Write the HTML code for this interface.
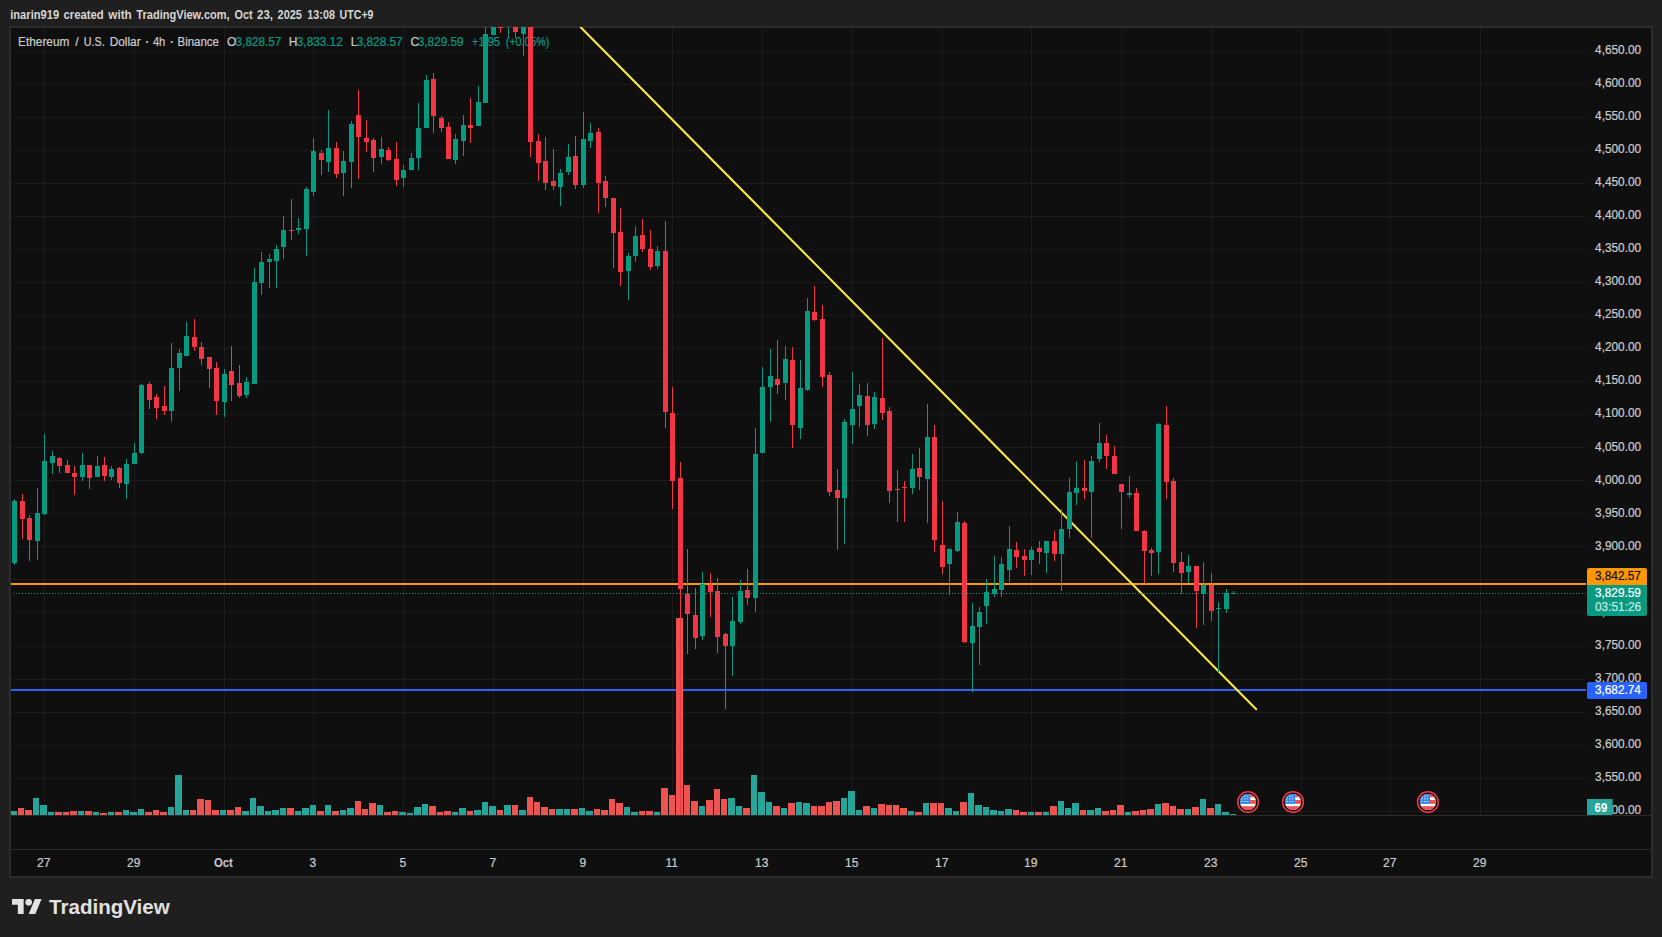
<!DOCTYPE html>
<html lang="en"><head><meta charset="utf-8"><title>ETHUSD 4h chart</title>
<style>html,body{margin:0;padding:0;background:#1f1f1f;overflow:hidden}body{width:1662px;height:937px}svg text{white-space:pre}</style>
</head><body>
<svg width="1662" height="937" viewBox="0 0 1662 937" style="display:block" font-family="'Liberation Sans', sans-serif">
<rect width="1662" height="937" fill="#1f1f1f"/>
<rect x="9" y="26" width="1644" height="852" fill="#2c2c2c"/>
<rect x="11" y="28" width="1640" height="848" fill="#0f0f0f"/>
<g shape-rendering="crispEdges" fill="#ffffff" fill-opacity="0.05">
<rect x="11" y="51" width="1575" height="1"/>
<rect x="11" y="84" width="1575" height="1"/>
<rect x="11" y="117" width="1575" height="1"/>
<rect x="11" y="150" width="1575" height="1"/>
<rect x="11" y="183" width="1575" height="1"/>
<rect x="11" y="216" width="1575" height="1"/>
<rect x="11" y="249" width="1575" height="1"/>
<rect x="11" y="282" width="1575" height="1"/>
<rect x="11" y="315" width="1575" height="1"/>
<rect x="11" y="348" width="1575" height="1"/>
<rect x="11" y="381" width="1575" height="1"/>
<rect x="11" y="414" width="1575" height="1"/>
<rect x="11" y="447" width="1575" height="1"/>
<rect x="11" y="480" width="1575" height="1"/>
<rect x="11" y="513" width="1575" height="1"/>
<rect x="11" y="546" width="1575" height="1"/>
<rect x="11" y="579" width="1575" height="1"/>
<rect x="11" y="612" width="1575" height="1"/>
<rect x="11" y="646" width="1575" height="1"/>
<rect x="11" y="679" width="1575" height="1"/>
<rect x="11" y="712" width="1575" height="1"/>
<rect x="11" y="745" width="1575" height="1"/>
<rect x="11" y="778" width="1575" height="1"/>
<rect x="11" y="811" width="1575" height="1"/>
<rect x="44" y="28" width="1" height="787"/>
<rect x="134" y="28" width="1" height="787"/>
<rect x="224" y="28" width="1" height="787"/>
<rect x="313" y="28" width="1" height="787"/>
<rect x="403" y="28" width="1" height="787"/>
<rect x="493" y="28" width="1" height="787"/>
<rect x="583" y="28" width="1" height="787"/>
<rect x="672" y="28" width="1" height="787"/>
<rect x="762" y="28" width="1" height="787"/>
<rect x="852" y="28" width="1" height="787"/>
<rect x="942" y="28" width="1" height="787"/>
<rect x="1031" y="28" width="1" height="787"/>
<rect x="1121" y="28" width="1" height="787"/>
<rect x="1211" y="28" width="1" height="787"/>
<rect x="1301" y="28" width="1" height="787"/>
<rect x="1390" y="28" width="1" height="787"/>
<rect x="1480" y="28" width="1" height="787"/>
</g>
<g shape-rendering="crispEdges" fill="#2b2b2b">
<rect x="11" y="815" width="1640" height="1"/>
<rect x="11" y="849" width="1640" height="1"/>
</g>
<text x="18.1" y="46" font-size="12" fill="#cbcbcb" textLength="51.2" lengthAdjust="spacingAndGlyphs" stroke="#cbcbcb" stroke-width="0.22">Ethereum</text>
<text x="75.2" y="46" font-size="12" fill="#cbcbcb" stroke="#cbcbcb" stroke-width="0.22">/</text>
<text x="83.8" y="46" font-size="12" fill="#cbcbcb" textLength="20.9" lengthAdjust="spacingAndGlyphs" stroke="#cbcbcb" stroke-width="0.22">U.S.</text>
<text x="109.7" y="46" font-size="12" fill="#cbcbcb" textLength="30.9" lengthAdjust="spacingAndGlyphs" stroke="#cbcbcb" stroke-width="0.22">Dollar</text>
<text x="145.2" y="46" font-size="12" fill="#cbcbcb" font-weight="bold">·</text>
<text x="152.9" y="46" font-size="12" fill="#cbcbcb" textLength="12.4" lengthAdjust="spacingAndGlyphs" stroke="#cbcbcb" stroke-width="0.22">4h</text>
<text x="170.0" y="46" font-size="12" fill="#cbcbcb" font-weight="bold">·</text>
<text x="177.6" y="46" font-size="12" fill="#cbcbcb" textLength="41.3" lengthAdjust="spacingAndGlyphs" stroke="#cbcbcb" stroke-width="0.22">Binance</text>
<text x="227" y="46" font-size="12" fill="#cbcbcb" stroke="#cbcbcb" stroke-width="0.22">O</text>
<text x="235.6" y="46" font-size="12" fill="#089981" textLength="45.7" lengthAdjust="spacingAndGlyphs" stroke="#089981" stroke-width="0.22">3,828.57</text>
<text x="288.8" y="46" font-size="12" fill="#cbcbcb" stroke="#cbcbcb" stroke-width="0.22">H</text>
<text x="296.8" y="46" font-size="12" fill="#089981" textLength="45.9" lengthAdjust="spacingAndGlyphs" stroke="#089981" stroke-width="0.22">3,833.12</text>
<text x="350.8" y="46" font-size="12" fill="#cbcbcb" stroke="#cbcbcb" stroke-width="0.22">L</text>
<text x="356.7" y="46" font-size="12" fill="#089981" textLength="45.9" lengthAdjust="spacingAndGlyphs" stroke="#089981" stroke-width="0.22">3,828.57</text>
<text x="410.6" y="46" font-size="12" fill="#cbcbcb" stroke="#cbcbcb" stroke-width="0.22">C</text>
<text x="417.8" y="46" font-size="12" fill="#089981" textLength="45.8" lengthAdjust="spacingAndGlyphs" stroke="#089981" stroke-width="0.22">3,829.59</text>
<text x="472" y="46" font-size="12" fill="#089981" textLength="28" lengthAdjust="spacingAndGlyphs" stroke="#089981" stroke-width="0.22">+1.95</text>
<text x="505.7" y="46" font-size="12" fill="#089981" textLength="43.7" lengthAdjust="spacingAndGlyphs" stroke="#089981" stroke-width="0.22">(+0.05%)</text>
<clipPath id="pane"><rect x="11" y="27" width="1575" height="788"/></clipPath>
<g clip-path="url(#pane)">
<g shape-rendering="crispEdges">
<rect x="11" y="583" width="1575" height="2" fill="#ff9800"/>
<rect x="11" y="689" width="1575" height="2" fill="#2962ff"/>
</g>
<line x1="580.7" y1="27.2" x2="1256.2" y2="709.2" stroke="#ffeb3b" stroke-width="2" stroke-linecap="round"/>
<g shape-rendering="crispEdges">
<rect x="11" y="811" width="6" height="4" fill="#26a69a"/>
<rect x="18" y="808" width="6" height="7" fill="#ef5350"/>
<rect x="25" y="810" width="7" height="5" fill="#ef5350"/>
<rect x="33" y="798" width="6" height="17" fill="#26a69a"/>
<rect x="40" y="805" width="7" height="10" fill="#26a69a"/>
<rect x="48" y="812" width="6" height="3" fill="#26a69a"/>
<rect x="55" y="812" width="7" height="3" fill="#ef5350"/>
<rect x="63" y="812" width="6" height="3" fill="#ef5350"/>
<rect x="70" y="811" width="7" height="4" fill="#ef5350"/>
<rect x="78" y="811" width="6" height="4" fill="#26a69a"/>
<rect x="85" y="811" width="7" height="4" fill="#ef5350"/>
<rect x="93" y="812" width="6" height="3" fill="#26a69a"/>
<rect x="100" y="813" width="7" height="2" fill="#ef5350"/>
<rect x="108" y="812" width="6" height="3" fill="#26a69a"/>
<rect x="115" y="812" width="7" height="3" fill="#ef5350"/>
<rect x="123" y="810" width="6" height="5" fill="#26a69a"/>
<rect x="130" y="812" width="7" height="3" fill="#26a69a"/>
<rect x="138" y="809" width="6" height="6" fill="#26a69a"/>
<rect x="145" y="812" width="7" height="3" fill="#ef5350"/>
<rect x="153" y="810" width="6" height="5" fill="#ef5350"/>
<rect x="160" y="812" width="7" height="3" fill="#ef5350"/>
<rect x="168" y="807" width="6" height="8" fill="#26a69a"/>
<rect x="175" y="775" width="7" height="40" fill="#26a69a"/>
<rect x="183" y="810" width="6" height="5" fill="#26a69a"/>
<rect x="190" y="810" width="6" height="5" fill="#ef5350"/>
<rect x="197" y="799" width="7" height="16" fill="#ef5350"/>
<rect x="205" y="800" width="6" height="15" fill="#ef5350"/>
<rect x="212" y="810" width="7" height="5" fill="#ef5350"/>
<rect x="220" y="810" width="6" height="5" fill="#26a69a"/>
<rect x="227" y="810" width="7" height="5" fill="#ef5350"/>
<rect x="235" y="807" width="6" height="8" fill="#ef5350"/>
<rect x="242" y="811" width="7" height="4" fill="#26a69a"/>
<rect x="250" y="798" width="6" height="17" fill="#26a69a"/>
<rect x="257" y="806" width="7" height="9" fill="#26a69a"/>
<rect x="265" y="811" width="6" height="4" fill="#26a69a"/>
<rect x="272" y="810" width="7" height="5" fill="#26a69a"/>
<rect x="280" y="808" width="6" height="7" fill="#26a69a"/>
<rect x="287" y="808" width="7" height="7" fill="#ef5350"/>
<rect x="295" y="811" width="6" height="4" fill="#26a69a"/>
<rect x="302" y="808" width="7" height="7" fill="#26a69a"/>
<rect x="310" y="805" width="6" height="10" fill="#26a69a"/>
<rect x="317" y="811" width="7" height="4" fill="#ef5350"/>
<rect x="325" y="805" width="6" height="10" fill="#26a69a"/>
<rect x="332" y="811" width="7" height="4" fill="#ef5350"/>
<rect x="340" y="810" width="6" height="5" fill="#26a69a"/>
<rect x="347" y="808" width="7" height="7" fill="#26a69a"/>
<rect x="355" y="801" width="6" height="14" fill="#ef5350"/>
<rect x="362" y="809" width="6" height="6" fill="#ef5350"/>
<rect x="369" y="803" width="7" height="12" fill="#ef5350"/>
<rect x="377" y="805" width="6" height="10" fill="#26a69a"/>
<rect x="384" y="812" width="7" height="3" fill="#ef5350"/>
<rect x="392" y="811" width="6" height="4" fill="#ef5350"/>
<rect x="399" y="812" width="7" height="3" fill="#26a69a"/>
<rect x="407" y="813" width="6" height="2" fill="#26a69a"/>
<rect x="414" y="807" width="7" height="8" fill="#26a69a"/>
<rect x="422" y="804" width="6" height="11" fill="#26a69a"/>
<rect x="429" y="806" width="7" height="9" fill="#ef5350"/>
<rect x="437" y="812" width="6" height="3" fill="#ef5350"/>
<rect x="444" y="811" width="7" height="4" fill="#ef5350"/>
<rect x="452" y="812" width="6" height="3" fill="#26a69a"/>
<rect x="459" y="808" width="7" height="7" fill="#26a69a"/>
<rect x="467" y="811" width="6" height="4" fill="#ef5350"/>
<rect x="474" y="810" width="7" height="5" fill="#26a69a"/>
<rect x="482" y="802" width="6" height="13" fill="#26a69a"/>
<rect x="489" y="806" width="7" height="9" fill="#26a69a"/>
<rect x="497" y="810" width="6" height="5" fill="#ef5350"/>
<rect x="504" y="805" width="7" height="10" fill="#26a69a"/>
<rect x="512" y="805" width="6" height="10" fill="#ef5350"/>
<rect x="519" y="810" width="7" height="5" fill="#26a69a"/>
<rect x="527" y="797" width="6" height="18" fill="#ef5350"/>
<rect x="534" y="802" width="6" height="13" fill="#ef5350"/>
<rect x="541" y="807" width="7" height="8" fill="#ef5350"/>
<rect x="549" y="809" width="6" height="6" fill="#ef5350"/>
<rect x="556" y="809" width="7" height="6" fill="#26a69a"/>
<rect x="564" y="809" width="6" height="6" fill="#26a69a"/>
<rect x="571" y="809" width="7" height="6" fill="#ef5350"/>
<rect x="579" y="808" width="6" height="7" fill="#26a69a"/>
<rect x="586" y="811" width="7" height="4" fill="#26a69a"/>
<rect x="594" y="809" width="6" height="6" fill="#ef5350"/>
<rect x="601" y="810" width="7" height="5" fill="#ef5350"/>
<rect x="609" y="799" width="6" height="16" fill="#ef5350"/>
<rect x="616" y="803" width="7" height="12" fill="#ef5350"/>
<rect x="624" y="807" width="6" height="8" fill="#26a69a"/>
<rect x="631" y="812" width="7" height="3" fill="#26a69a"/>
<rect x="639" y="811" width="6" height="4" fill="#ef5350"/>
<rect x="646" y="811" width="7" height="4" fill="#ef5350"/>
<rect x="654" y="812" width="6" height="3" fill="#26a69a"/>
<rect x="661" y="788" width="7" height="27" fill="#ef5350"/>
<rect x="669" y="795" width="6" height="20" fill="#ef5350"/>
<rect x="676" y="618" width="7" height="197" fill="#ef5350"/>
<rect x="684" y="785" width="6" height="30" fill="#ef5350"/>
<rect x="691" y="801" width="7" height="14" fill="#ef5350"/>
<rect x="699" y="806" width="6" height="9" fill="#26a69a"/>
<rect x="706" y="800" width="7" height="15" fill="#ef5350"/>
<rect x="714" y="789" width="6" height="26" fill="#ef5350"/>
<rect x="721" y="799" width="6" height="16" fill="#ef5350"/>
<rect x="728" y="798" width="7" height="17" fill="#26a69a"/>
<rect x="736" y="806" width="6" height="9" fill="#26a69a"/>
<rect x="743" y="808" width="7" height="7" fill="#ef5350"/>
<rect x="751" y="775" width="6" height="40" fill="#26a69a"/>
<rect x="758" y="792" width="7" height="23" fill="#26a69a"/>
<rect x="766" y="802" width="6" height="13" fill="#26a69a"/>
<rect x="773" y="806" width="7" height="9" fill="#ef5350"/>
<rect x="781" y="808" width="6" height="7" fill="#26a69a"/>
<rect x="788" y="803" width="7" height="12" fill="#ef5350"/>
<rect x="796" y="802" width="6" height="13" fill="#26a69a"/>
<rect x="803" y="803" width="7" height="12" fill="#26a69a"/>
<rect x="811" y="806" width="6" height="9" fill="#ef5350"/>
<rect x="818" y="806" width="7" height="9" fill="#ef5350"/>
<rect x="826" y="802" width="6" height="13" fill="#ef5350"/>
<rect x="833" y="801" width="7" height="14" fill="#ef5350"/>
<rect x="841" y="798" width="6" height="17" fill="#26a69a"/>
<rect x="848" y="791" width="7" height="24" fill="#26a69a"/>
<rect x="856" y="810" width="6" height="5" fill="#26a69a"/>
<rect x="863" y="806" width="7" height="9" fill="#ef5350"/>
<rect x="871" y="808" width="6" height="7" fill="#26a69a"/>
<rect x="878" y="804" width="7" height="11" fill="#ef5350"/>
<rect x="886" y="805" width="6" height="10" fill="#ef5350"/>
<rect x="893" y="805" width="6" height="10" fill="#ef5350"/>
<rect x="900" y="808" width="7" height="7" fill="#ef5350"/>
<rect x="908" y="811" width="6" height="4" fill="#26a69a"/>
<rect x="915" y="812" width="7" height="3" fill="#ef5350"/>
<rect x="923" y="803" width="6" height="12" fill="#26a69a"/>
<rect x="930" y="803" width="7" height="12" fill="#ef5350"/>
<rect x="938" y="803" width="6" height="12" fill="#ef5350"/>
<rect x="945" y="808" width="7" height="7" fill="#26a69a"/>
<rect x="953" y="811" width="6" height="4" fill="#26a69a"/>
<rect x="960" y="802" width="7" height="13" fill="#ef5350"/>
<rect x="968" y="793" width="6" height="22" fill="#26a69a"/>
<rect x="975" y="805" width="7" height="10" fill="#26a69a"/>
<rect x="983" y="807" width="6" height="8" fill="#26a69a"/>
<rect x="990" y="810" width="7" height="5" fill="#26a69a"/>
<rect x="998" y="811" width="6" height="4" fill="#26a69a"/>
<rect x="1005" y="809" width="7" height="6" fill="#26a69a"/>
<rect x="1013" y="810" width="6" height="5" fill="#ef5350"/>
<rect x="1020" y="812" width="7" height="3" fill="#ef5350"/>
<rect x="1028" y="812" width="6" height="3" fill="#26a69a"/>
<rect x="1035" y="812" width="7" height="3" fill="#ef5350"/>
<rect x="1043" y="812" width="6" height="3" fill="#26a69a"/>
<rect x="1050" y="806" width="7" height="9" fill="#ef5350"/>
<rect x="1058" y="801" width="6" height="14" fill="#26a69a"/>
<rect x="1065" y="808" width="6" height="7" fill="#26a69a"/>
<rect x="1072" y="803" width="7" height="12" fill="#26a69a"/>
<rect x="1080" y="810" width="6" height="5" fill="#ef5350"/>
<rect x="1087" y="810" width="7" height="5" fill="#26a69a"/>
<rect x="1095" y="808" width="6" height="7" fill="#26a69a"/>
<rect x="1102" y="811" width="7" height="4" fill="#ef5350"/>
<rect x="1110" y="810" width="6" height="5" fill="#ef5350"/>
<rect x="1117" y="805" width="7" height="10" fill="#ef5350"/>
<rect x="1125" y="812" width="6" height="3" fill="#26a69a"/>
<rect x="1132" y="811" width="7" height="4" fill="#ef5350"/>
<rect x="1140" y="810" width="6" height="5" fill="#ef5350"/>
<rect x="1147" y="809" width="7" height="6" fill="#ef5350"/>
<rect x="1155" y="804" width="6" height="11" fill="#26a69a"/>
<rect x="1162" y="803" width="7" height="12" fill="#ef5350"/>
<rect x="1170" y="806" width="6" height="9" fill="#ef5350"/>
<rect x="1177" y="809" width="7" height="6" fill="#ef5350"/>
<rect x="1185" y="809" width="6" height="6" fill="#26a69a"/>
<rect x="1192" y="807" width="7" height="8" fill="#ef5350"/>
<rect x="1200" y="799" width="6" height="16" fill="#26a69a"/>
<rect x="1207" y="808" width="7" height="7" fill="#ef5350"/>
<rect x="1215" y="804" width="6" height="11" fill="#26a69a"/>
<rect x="1222" y="812" width="7" height="3" fill="#26a69a"/>
<rect x="1230" y="814" width="6" height="1" fill="#26a69a"/>
<rect x="14" y="499" width="1" height="66" fill="#089981"/>
<rect x="12" y="501" width="5" height="62" fill="#089981"/>
<rect x="22" y="494" width="1" height="45" fill="#f23645"/>
<rect x="20" y="501" width="5" height="18" fill="#f23645"/>
<rect x="29" y="515" width="1" height="46" fill="#f23645"/>
<rect x="27" y="518" width="5" height="22" fill="#f23645"/>
<rect x="37" y="488" width="1" height="72" fill="#089981"/>
<rect x="35" y="513" width="5" height="28" fill="#089981"/>
<rect x="44" y="434" width="1" height="81" fill="#089981"/>
<rect x="42" y="461" width="5" height="53" fill="#089981"/>
<rect x="52" y="451" width="1" height="23" fill="#089981"/>
<rect x="50" y="456" width="5" height="7" fill="#089981"/>
<rect x="59" y="457" width="1" height="16" fill="#f23645"/>
<rect x="57" y="458" width="5" height="8" fill="#f23645"/>
<rect x="67" y="460" width="1" height="13" fill="#f23645"/>
<rect x="65" y="465" width="5" height="8" fill="#f23645"/>
<rect x="74" y="466" width="1" height="29" fill="#f23645"/>
<rect x="72" y="473" width="5" height="4" fill="#f23645"/>
<rect x="82" y="453" width="1" height="28" fill="#089981"/>
<rect x="80" y="465" width="5" height="12" fill="#089981"/>
<rect x="89" y="465" width="1" height="24" fill="#f23645"/>
<rect x="87" y="465" width="5" height="13" fill="#f23645"/>
<rect x="97" y="456" width="1" height="21" fill="#089981"/>
<rect x="95" y="466" width="5" height="11" fill="#089981"/>
<rect x="104" y="457" width="1" height="24" fill="#f23645"/>
<rect x="102" y="465" width="5" height="11" fill="#f23645"/>
<rect x="111" y="466" width="1" height="14" fill="#089981"/>
<rect x="109" y="469" width="5" height="8" fill="#089981"/>
<rect x="119" y="467" width="1" height="21" fill="#f23645"/>
<rect x="117" y="468" width="5" height="15" fill="#f23645"/>
<rect x="126" y="459" width="1" height="40" fill="#089981"/>
<rect x="124" y="464" width="5" height="20" fill="#089981"/>
<rect x="134" y="443" width="1" height="21" fill="#089981"/>
<rect x="132" y="453" width="5" height="11" fill="#089981"/>
<rect x="141" y="384" width="1" height="70" fill="#089981"/>
<rect x="139" y="385" width="5" height="68" fill="#089981"/>
<rect x="149" y="382" width="1" height="27" fill="#f23645"/>
<rect x="147" y="384" width="5" height="16" fill="#f23645"/>
<rect x="156" y="394" width="1" height="25" fill="#f23645"/>
<rect x="154" y="397" width="5" height="11" fill="#f23645"/>
<rect x="164" y="386" width="1" height="29" fill="#f23645"/>
<rect x="162" y="406" width="5" height="5" fill="#f23645"/>
<rect x="171" y="343" width="1" height="79" fill="#089981"/>
<rect x="169" y="368" width="5" height="43" fill="#089981"/>
<rect x="179" y="349" width="1" height="42" fill="#089981"/>
<rect x="177" y="353" width="5" height="15" fill="#089981"/>
<rect x="186" y="322" width="1" height="34" fill="#089981"/>
<rect x="184" y="336" width="5" height="20" fill="#089981"/>
<rect x="194" y="319" width="1" height="32" fill="#f23645"/>
<rect x="192" y="337" width="5" height="10" fill="#f23645"/>
<rect x="201" y="342" width="1" height="23" fill="#f23645"/>
<rect x="199" y="347" width="5" height="12" fill="#f23645"/>
<rect x="209" y="357" width="1" height="31" fill="#f23645"/>
<rect x="207" y="357" width="5" height="12" fill="#f23645"/>
<rect x="216" y="362" width="1" height="53" fill="#f23645"/>
<rect x="214" y="368" width="5" height="33" fill="#f23645"/>
<rect x="224" y="369" width="1" height="48" fill="#089981"/>
<rect x="222" y="374" width="5" height="28" fill="#089981"/>
<rect x="231" y="346" width="1" height="55" fill="#f23645"/>
<rect x="229" y="371" width="5" height="14" fill="#f23645"/>
<rect x="239" y="365" width="1" height="33" fill="#f23645"/>
<rect x="237" y="383" width="5" height="13" fill="#f23645"/>
<rect x="246" y="377" width="1" height="21" fill="#089981"/>
<rect x="244" y="382" width="5" height="13" fill="#089981"/>
<rect x="254" y="268" width="1" height="116" fill="#089981"/>
<rect x="252" y="282" width="5" height="102" fill="#089981"/>
<rect x="261" y="252" width="1" height="43" fill="#089981"/>
<rect x="259" y="262" width="5" height="21" fill="#089981"/>
<rect x="269" y="254" width="1" height="34" fill="#089981"/>
<rect x="267" y="259" width="5" height="3" fill="#089981"/>
<rect x="276" y="245" width="1" height="43" fill="#089981"/>
<rect x="274" y="249" width="5" height="12" fill="#089981"/>
<rect x="283" y="216" width="1" height="43" fill="#089981"/>
<rect x="281" y="230" width="5" height="17" fill="#089981"/>
<rect x="291" y="199" width="1" height="41" fill="#f23645"/>
<rect x="289" y="230" width="5" height="1" fill="#f23645"/>
<rect x="298" y="218" width="1" height="16" fill="#089981"/>
<rect x="296" y="228" width="5" height="2" fill="#089981"/>
<rect x="306" y="187" width="1" height="69" fill="#089981"/>
<rect x="304" y="189" width="5" height="40" fill="#089981"/>
<rect x="313" y="138" width="1" height="58" fill="#089981"/>
<rect x="311" y="151" width="5" height="41" fill="#089981"/>
<rect x="321" y="150" width="1" height="25" fill="#f23645"/>
<rect x="319" y="153" width="5" height="7" fill="#f23645"/>
<rect x="328" y="110" width="1" height="62" fill="#089981"/>
<rect x="326" y="148" width="5" height="14" fill="#089981"/>
<rect x="336" y="142" width="1" height="36" fill="#f23645"/>
<rect x="334" y="148" width="5" height="26" fill="#f23645"/>
<rect x="343" y="151" width="1" height="45" fill="#089981"/>
<rect x="341" y="161" width="5" height="12" fill="#089981"/>
<rect x="351" y="121" width="1" height="67" fill="#089981"/>
<rect x="349" y="124" width="5" height="38" fill="#089981"/>
<rect x="358" y="90" width="1" height="89" fill="#f23645"/>
<rect x="356" y="115" width="5" height="22" fill="#f23645"/>
<rect x="366" y="120" width="1" height="32" fill="#f23645"/>
<rect x="364" y="138" width="5" height="4" fill="#f23645"/>
<rect x="373" y="138" width="1" height="34" fill="#f23645"/>
<rect x="371" y="140" width="5" height="18" fill="#f23645"/>
<rect x="381" y="137" width="1" height="27" fill="#089981"/>
<rect x="379" y="149" width="5" height="8" fill="#089981"/>
<rect x="388" y="147" width="1" height="14" fill="#f23645"/>
<rect x="386" y="150" width="5" height="10" fill="#f23645"/>
<rect x="396" y="142" width="1" height="44" fill="#f23645"/>
<rect x="394" y="159" width="5" height="21" fill="#f23645"/>
<rect x="403" y="165" width="1" height="22" fill="#089981"/>
<rect x="401" y="170" width="5" height="8" fill="#089981"/>
<rect x="411" y="153" width="1" height="17" fill="#089981"/>
<rect x="409" y="158" width="5" height="12" fill="#089981"/>
<rect x="418" y="103" width="1" height="67" fill="#089981"/>
<rect x="416" y="128" width="5" height="30" fill="#089981"/>
<rect x="426" y="75" width="1" height="53" fill="#089981"/>
<rect x="424" y="80" width="5" height="48" fill="#089981"/>
<rect x="433" y="73" width="1" height="60" fill="#f23645"/>
<rect x="431" y="79" width="5" height="37" fill="#f23645"/>
<rect x="441" y="116" width="1" height="16" fill="#f23645"/>
<rect x="439" y="118" width="5" height="10" fill="#f23645"/>
<rect x="448" y="122" width="1" height="37" fill="#f23645"/>
<rect x="446" y="127" width="5" height="32" fill="#f23645"/>
<rect x="455" y="134" width="1" height="30" fill="#089981"/>
<rect x="453" y="139" width="5" height="21" fill="#089981"/>
<rect x="463" y="115" width="1" height="41" fill="#089981"/>
<rect x="461" y="125" width="5" height="16" fill="#089981"/>
<rect x="470" y="98" width="1" height="45" fill="#f23645"/>
<rect x="468" y="125" width="5" height="3" fill="#f23645"/>
<rect x="478" y="86" width="1" height="40" fill="#089981"/>
<rect x="476" y="102" width="5" height="24" fill="#089981"/>
<rect x="485" y="20" width="1" height="83" fill="#089981"/>
<rect x="483" y="34" width="5" height="69" fill="#089981"/>
<rect x="493" y="20" width="1" height="15" fill="#089981"/>
<rect x="491" y="20" width="5" height="15" fill="#089981"/>
<rect x="500" y="20" width="1" height="13" fill="#f23645"/>
<rect x="498" y="27" width="5" height="1" fill="#f23645"/>
<rect x="508" y="20" width="1" height="19" fill="#089981"/>
<rect x="506" y="20" width="5" height="1" fill="#089981"/>
<rect x="515" y="20" width="1" height="18" fill="#f23645"/>
<rect x="513" y="20" width="5" height="12" fill="#f23645"/>
<rect x="523" y="20" width="1" height="36" fill="#089981"/>
<rect x="521" y="20" width="5" height="14" fill="#089981"/>
<rect x="530" y="20" width="1" height="137" fill="#f23645"/>
<rect x="528" y="20" width="5" height="122" fill="#f23645"/>
<rect x="538" y="134" width="1" height="47" fill="#f23645"/>
<rect x="536" y="141" width="5" height="22" fill="#f23645"/>
<rect x="545" y="137" width="1" height="53" fill="#f23645"/>
<rect x="543" y="161" width="5" height="22" fill="#f23645"/>
<rect x="553" y="149" width="1" height="41" fill="#f23645"/>
<rect x="551" y="181" width="5" height="5" fill="#f23645"/>
<rect x="560" y="169" width="1" height="37" fill="#089981"/>
<rect x="558" y="173" width="5" height="14" fill="#089981"/>
<rect x="568" y="144" width="1" height="31" fill="#089981"/>
<rect x="566" y="157" width="5" height="15" fill="#089981"/>
<rect x="575" y="136" width="1" height="53" fill="#f23645"/>
<rect x="573" y="156" width="5" height="29" fill="#f23645"/>
<rect x="583" y="112" width="1" height="76" fill="#089981"/>
<rect x="581" y="139" width="5" height="46" fill="#089981"/>
<rect x="590" y="123" width="1" height="25" fill="#089981"/>
<rect x="588" y="133" width="5" height="8" fill="#089981"/>
<rect x="598" y="128" width="1" height="85" fill="#f23645"/>
<rect x="596" y="132" width="5" height="51" fill="#f23645"/>
<rect x="605" y="176" width="1" height="31" fill="#f23645"/>
<rect x="603" y="181" width="5" height="17" fill="#f23645"/>
<rect x="613" y="198" width="1" height="70" fill="#f23645"/>
<rect x="611" y="198" width="5" height="35" fill="#f23645"/>
<rect x="620" y="208" width="1" height="78" fill="#f23645"/>
<rect x="618" y="232" width="5" height="40" fill="#f23645"/>
<rect x="628" y="253" width="1" height="47" fill="#089981"/>
<rect x="626" y="256" width="5" height="15" fill="#089981"/>
<rect x="635" y="226" width="1" height="36" fill="#089981"/>
<rect x="633" y="236" width="5" height="20" fill="#089981"/>
<rect x="642" y="219" width="1" height="33" fill="#f23645"/>
<rect x="640" y="235" width="5" height="14" fill="#f23645"/>
<rect x="650" y="230" width="1" height="40" fill="#f23645"/>
<rect x="648" y="249" width="5" height="18" fill="#f23645"/>
<rect x="657" y="246" width="1" height="23" fill="#089981"/>
<rect x="655" y="251" width="5" height="15" fill="#089981"/>
<rect x="665" y="221" width="1" height="207" fill="#f23645"/>
<rect x="663" y="251" width="5" height="161" fill="#f23645"/>
<rect x="672" y="387" width="1" height="122" fill="#f23645"/>
<rect x="670" y="413" width="5" height="68" fill="#f23645"/>
<rect x="680" y="462" width="1" height="353" fill="#f23645"/>
<rect x="678" y="478" width="5" height="111" fill="#f23645"/>
<rect x="687" y="549" width="1" height="105" fill="#f23645"/>
<rect x="685" y="594" width="5" height="20" fill="#f23645"/>
<rect x="695" y="588" width="1" height="61" fill="#f23645"/>
<rect x="693" y="615" width="5" height="23" fill="#f23645"/>
<rect x="702" y="572" width="1" height="68" fill="#089981"/>
<rect x="700" y="584" width="5" height="52" fill="#089981"/>
<rect x="710" y="573" width="1" height="44" fill="#f23645"/>
<rect x="708" y="585" width="5" height="7" fill="#f23645"/>
<rect x="717" y="578" width="1" height="75" fill="#f23645"/>
<rect x="715" y="591" width="5" height="46" fill="#f23645"/>
<rect x="725" y="633" width="1" height="76" fill="#f23645"/>
<rect x="723" y="634" width="5" height="12" fill="#f23645"/>
<rect x="732" y="597" width="1" height="79" fill="#089981"/>
<rect x="730" y="621" width="5" height="25" fill="#089981"/>
<rect x="740" y="580" width="1" height="44" fill="#089981"/>
<rect x="738" y="591" width="5" height="31" fill="#089981"/>
<rect x="747" y="569" width="1" height="36" fill="#f23645"/>
<rect x="745" y="590" width="5" height="8" fill="#f23645"/>
<rect x="755" y="428" width="1" height="184" fill="#089981"/>
<rect x="753" y="454" width="5" height="144" fill="#089981"/>
<rect x="762" y="367" width="1" height="86" fill="#089981"/>
<rect x="760" y="387" width="5" height="66" fill="#089981"/>
<rect x="770" y="349" width="1" height="73" fill="#089981"/>
<rect x="768" y="376" width="5" height="11" fill="#089981"/>
<rect x="777" y="340" width="1" height="54" fill="#f23645"/>
<rect x="775" y="379" width="5" height="6" fill="#f23645"/>
<rect x="785" y="346" width="1" height="54" fill="#089981"/>
<rect x="783" y="359" width="5" height="24" fill="#089981"/>
<rect x="792" y="347" width="1" height="101" fill="#f23645"/>
<rect x="790" y="360" width="5" height="65" fill="#f23645"/>
<rect x="800" y="360" width="1" height="79" fill="#089981"/>
<rect x="798" y="388" width="5" height="40" fill="#089981"/>
<rect x="807" y="298" width="1" height="93" fill="#089981"/>
<rect x="805" y="311" width="5" height="79" fill="#089981"/>
<rect x="814" y="286" width="1" height="35" fill="#f23645"/>
<rect x="812" y="312" width="5" height="8" fill="#f23645"/>
<rect x="822" y="305" width="1" height="82" fill="#f23645"/>
<rect x="820" y="319" width="5" height="58" fill="#f23645"/>
<rect x="829" y="372" width="1" height="124" fill="#f23645"/>
<rect x="827" y="375" width="5" height="117" fill="#f23645"/>
<rect x="837" y="469" width="1" height="81" fill="#f23645"/>
<rect x="835" y="490" width="5" height="8" fill="#f23645"/>
<rect x="844" y="419" width="1" height="125" fill="#089981"/>
<rect x="842" y="422" width="5" height="76" fill="#089981"/>
<rect x="852" y="372" width="1" height="72" fill="#089981"/>
<rect x="850" y="409" width="5" height="16" fill="#089981"/>
<rect x="859" y="384" width="1" height="43" fill="#089981"/>
<rect x="857" y="395" width="5" height="11" fill="#089981"/>
<rect x="867" y="383" width="1" height="53" fill="#f23645"/>
<rect x="865" y="396" width="5" height="29" fill="#f23645"/>
<rect x="874" y="392" width="1" height="37" fill="#089981"/>
<rect x="872" y="397" width="5" height="27" fill="#089981"/>
<rect x="882" y="338" width="1" height="82" fill="#f23645"/>
<rect x="880" y="398" width="5" height="15" fill="#f23645"/>
<rect x="889" y="407" width="1" height="96" fill="#f23645"/>
<rect x="887" y="411" width="5" height="80" fill="#f23645"/>
<rect x="897" y="470" width="1" height="52" fill="#f23645"/>
<rect x="895" y="489" width="5" height="1" fill="#f23645"/>
<rect x="904" y="481" width="1" height="41" fill="#f23645"/>
<rect x="902" y="487" width="5" height="1" fill="#f23645"/>
<rect x="912" y="454" width="1" height="40" fill="#089981"/>
<rect x="910" y="469" width="5" height="19" fill="#089981"/>
<rect x="919" y="448" width="1" height="42" fill="#f23645"/>
<rect x="917" y="468" width="5" height="9" fill="#f23645"/>
<rect x="927" y="404" width="1" height="119" fill="#089981"/>
<rect x="925" y="437" width="5" height="42" fill="#089981"/>
<rect x="934" y="425" width="1" height="127" fill="#f23645"/>
<rect x="932" y="437" width="5" height="103" fill="#f23645"/>
<rect x="942" y="501" width="1" height="73" fill="#f23645"/>
<rect x="940" y="545" width="5" height="22" fill="#f23645"/>
<rect x="949" y="548" width="1" height="47" fill="#089981"/>
<rect x="947" y="549" width="5" height="15" fill="#089981"/>
<rect x="957" y="512" width="1" height="40" fill="#089981"/>
<rect x="955" y="522" width="5" height="29" fill="#089981"/>
<rect x="964" y="521" width="1" height="122" fill="#f23645"/>
<rect x="962" y="523" width="5" height="119" fill="#f23645"/>
<rect x="972" y="603" width="1" height="89" fill="#089981"/>
<rect x="970" y="626" width="5" height="17" fill="#089981"/>
<rect x="979" y="607" width="1" height="58" fill="#089981"/>
<rect x="977" y="612" width="5" height="15" fill="#089981"/>
<rect x="986" y="579" width="1" height="45" fill="#089981"/>
<rect x="984" y="592" width="5" height="14" fill="#089981"/>
<rect x="994" y="556" width="1" height="41" fill="#089981"/>
<rect x="992" y="589" width="5" height="5" fill="#089981"/>
<rect x="1001" y="557" width="1" height="40" fill="#089981"/>
<rect x="999" y="564" width="5" height="26" fill="#089981"/>
<rect x="1009" y="526" width="1" height="56" fill="#089981"/>
<rect x="1007" y="549" width="5" height="21" fill="#089981"/>
<rect x="1016" y="542" width="1" height="26" fill="#f23645"/>
<rect x="1014" y="550" width="5" height="7" fill="#f23645"/>
<rect x="1024" y="549" width="1" height="27" fill="#f23645"/>
<rect x="1022" y="556" width="5" height="4" fill="#f23645"/>
<rect x="1031" y="547" width="1" height="28" fill="#089981"/>
<rect x="1029" y="550" width="5" height="10" fill="#089981"/>
<rect x="1039" y="541" width="1" height="23" fill="#f23645"/>
<rect x="1037" y="548" width="5" height="4" fill="#f23645"/>
<rect x="1046" y="541" width="1" height="32" fill="#089981"/>
<rect x="1044" y="541" width="5" height="12" fill="#089981"/>
<rect x="1054" y="531" width="1" height="30" fill="#f23645"/>
<rect x="1052" y="541" width="5" height="13" fill="#f23645"/>
<rect x="1061" y="509" width="1" height="82" fill="#089981"/>
<rect x="1059" y="529" width="5" height="25" fill="#089981"/>
<rect x="1069" y="478" width="1" height="60" fill="#089981"/>
<rect x="1067" y="492" width="5" height="37" fill="#089981"/>
<rect x="1076" y="462" width="1" height="43" fill="#089981"/>
<rect x="1074" y="488" width="5" height="5" fill="#089981"/>
<rect x="1084" y="460" width="1" height="39" fill="#f23645"/>
<rect x="1082" y="488" width="5" height="3" fill="#f23645"/>
<rect x="1091" y="456" width="1" height="82" fill="#089981"/>
<rect x="1089" y="461" width="5" height="31" fill="#089981"/>
<rect x="1099" y="423" width="1" height="39" fill="#089981"/>
<rect x="1097" y="443" width="5" height="16" fill="#089981"/>
<rect x="1106" y="435" width="1" height="34" fill="#f23645"/>
<rect x="1104" y="443" width="5" height="13" fill="#f23645"/>
<rect x="1114" y="446" width="1" height="28" fill="#f23645"/>
<rect x="1112" y="456" width="5" height="18" fill="#f23645"/>
<rect x="1121" y="484" width="1" height="45" fill="#f23645"/>
<rect x="1119" y="484" width="5" height="8" fill="#f23645"/>
<rect x="1129" y="476" width="1" height="22" fill="#089981"/>
<rect x="1127" y="493" width="5" height="2" fill="#089981"/>
<rect x="1136" y="488" width="1" height="43" fill="#f23645"/>
<rect x="1134" y="493" width="5" height="38" fill="#f23645"/>
<rect x="1144" y="530" width="1" height="53" fill="#f23645"/>
<rect x="1142" y="531" width="5" height="20" fill="#f23645"/>
<rect x="1151" y="548" width="1" height="28" fill="#f23645"/>
<rect x="1149" y="550" width="5" height="3" fill="#f23645"/>
<rect x="1158" y="423" width="1" height="151" fill="#089981"/>
<rect x="1156" y="424" width="5" height="128" fill="#089981"/>
<rect x="1166" y="406" width="1" height="93" fill="#f23645"/>
<rect x="1164" y="425" width="5" height="57" fill="#f23645"/>
<rect x="1173" y="478" width="1" height="94" fill="#f23645"/>
<rect x="1171" y="481" width="5" height="82" fill="#f23645"/>
<rect x="1181" y="552" width="1" height="42" fill="#f23645"/>
<rect x="1179" y="562" width="5" height="11" fill="#f23645"/>
<rect x="1188" y="555" width="1" height="28" fill="#089981"/>
<rect x="1186" y="566" width="5" height="6" fill="#089981"/>
<rect x="1196" y="566" width="1" height="62" fill="#f23645"/>
<rect x="1194" y="566" width="5" height="25" fill="#f23645"/>
<rect x="1203" y="562" width="1" height="63" fill="#089981"/>
<rect x="1201" y="585" width="5" height="9" fill="#089981"/>
<rect x="1211" y="573" width="1" height="48" fill="#f23645"/>
<rect x="1209" y="585" width="5" height="26" fill="#f23645"/>
<rect x="1218" y="602" width="1" height="70" fill="#089981"/>
<rect x="1216" y="608" width="5" height="1" fill="#089981"/>
<rect x="1226" y="589" width="1" height="24" fill="#089981"/>
<rect x="1224" y="593" width="5" height="16" fill="#089981"/>
<rect x="1233" y="591" width="1" height="3" fill="#089981"/>
<rect x="1231" y="593" width="5" height="1" fill="#089981"/>
</g>
<line x1="13" y1="593.5" x2="1586" y2="593.5" stroke="#089981" stroke-width="1" stroke-dasharray="1 2" shape-rendering="crispEdges"/>
</g>
<clipPath id="fc"><circle r="8.05"/></clipPath>
<g transform="translate(1248.05,802.0)">
<circle r="10.35" fill="none" stroke="#f23645" stroke-width="1.55"/>
<g clip-path="url(#fc)">
<rect x="-9" y="-9" width="18" height="18" fill="#fdfdfd"/>
<rect x="2.1" y="-9" width="7" height="4.3" fill="#ef5350"/>
<rect x="2.1" y="-2.0" width="7" height="3.85" fill="#ef5350"/>
<rect x="-9" y="4.2" width="18" height="5" fill="#ef5350"/>
<rect x="-9" y="-9" width="11.1" height="10.85" fill="#2b85ee"/>
<rect x="-6.60" y="-6.30" width="1.6" height="1" fill="#d6e6fc"/>
<rect x="-3.90" y="-6.30" width="1.6" height="1" fill="#d6e6fc"/>
<rect x="-1.25" y="-6.30" width="1.6" height="1" fill="#d6e6fc"/>
<rect x="-6.60" y="-3.70" width="1.6" height="1" fill="#d6e6fc"/>
<rect x="-3.90" y="-3.70" width="1.6" height="1" fill="#d6e6fc"/>
<rect x="-1.25" y="-3.70" width="1.6" height="1" fill="#d6e6fc"/>
<rect x="-6.60" y="-1.00" width="1.6" height="1" fill="#d6e6fc"/>
<rect x="-3.90" y="-1.00" width="1.6" height="1" fill="#d6e6fc"/>
<rect x="-1.25" y="-1.00" width="1.6" height="1" fill="#d6e6fc"/>
</g></g>
<g transform="translate(1293.0,802.0)">
<circle r="10.35" fill="none" stroke="#f23645" stroke-width="1.55"/>
<g clip-path="url(#fc)">
<rect x="-9" y="-9" width="18" height="18" fill="#fdfdfd"/>
<rect x="2.1" y="-9" width="7" height="4.3" fill="#ef5350"/>
<rect x="2.1" y="-2.0" width="7" height="3.85" fill="#ef5350"/>
<rect x="-9" y="4.2" width="18" height="5" fill="#ef5350"/>
<rect x="-9" y="-9" width="11.1" height="10.85" fill="#2b85ee"/>
<rect x="-6.60" y="-6.30" width="1.6" height="1" fill="#d6e6fc"/>
<rect x="-3.90" y="-6.30" width="1.6" height="1" fill="#d6e6fc"/>
<rect x="-1.25" y="-6.30" width="1.6" height="1" fill="#d6e6fc"/>
<rect x="-6.60" y="-3.70" width="1.6" height="1" fill="#d6e6fc"/>
<rect x="-3.90" y="-3.70" width="1.6" height="1" fill="#d6e6fc"/>
<rect x="-1.25" y="-3.70" width="1.6" height="1" fill="#d6e6fc"/>
<rect x="-6.60" y="-1.00" width="1.6" height="1" fill="#d6e6fc"/>
<rect x="-3.90" y="-1.00" width="1.6" height="1" fill="#d6e6fc"/>
<rect x="-1.25" y="-1.00" width="1.6" height="1" fill="#d6e6fc"/>
</g></g>
<g transform="translate(1427.9,802.0)">
<circle r="10.35" fill="none" stroke="#f23645" stroke-width="1.55"/>
<g clip-path="url(#fc)">
<rect x="-9" y="-9" width="18" height="18" fill="#fdfdfd"/>
<rect x="2.1" y="-9" width="7" height="4.3" fill="#ef5350"/>
<rect x="2.1" y="-2.0" width="7" height="3.85" fill="#ef5350"/>
<rect x="-9" y="4.2" width="18" height="5" fill="#ef5350"/>
<rect x="-9" y="-9" width="11.1" height="10.85" fill="#2b85ee"/>
<rect x="-6.60" y="-6.30" width="1.6" height="1" fill="#d6e6fc"/>
<rect x="-3.90" y="-6.30" width="1.6" height="1" fill="#d6e6fc"/>
<rect x="-1.25" y="-6.30" width="1.6" height="1" fill="#d6e6fc"/>
<rect x="-6.60" y="-3.70" width="1.6" height="1" fill="#d6e6fc"/>
<rect x="-3.90" y="-3.70" width="1.6" height="1" fill="#d6e6fc"/>
<rect x="-1.25" y="-3.70" width="1.6" height="1" fill="#d6e6fc"/>
<rect x="-6.60" y="-1.00" width="1.6" height="1" fill="#d6e6fc"/>
<rect x="-3.90" y="-1.00" width="1.6" height="1" fill="#d6e6fc"/>
<rect x="-1.25" y="-1.00" width="1.6" height="1" fill="#d6e6fc"/>
</g></g>
<clipPath id="pax"><rect x="1586" y="28" width="65" height="787"/></clipPath>
<g clip-path="url(#pax)">
<text x="1595.1" y="53.9" font-size="12" fill="#cbcbcb" textLength="46.0" lengthAdjust="spacingAndGlyphs" stroke="#cbcbcb" stroke-width="0.22">4,650.00</text>
<text x="1595.1" y="87.0" font-size="12" fill="#cbcbcb" textLength="46.0" lengthAdjust="spacingAndGlyphs" stroke="#cbcbcb" stroke-width="0.22">4,600.00</text>
<text x="1595.1" y="120.0" font-size="12" fill="#cbcbcb" textLength="46.0" lengthAdjust="spacingAndGlyphs" stroke="#cbcbcb" stroke-width="0.22">4,550.00</text>
<text x="1595.1" y="153.1" font-size="12" fill="#cbcbcb" textLength="46.0" lengthAdjust="spacingAndGlyphs" stroke="#cbcbcb" stroke-width="0.22">4,500.00</text>
<text x="1595.1" y="186.1" font-size="12" fill="#cbcbcb" textLength="46.0" lengthAdjust="spacingAndGlyphs" stroke="#cbcbcb" stroke-width="0.22">4,450.00</text>
<text x="1595.1" y="219.2" font-size="12" fill="#cbcbcb" textLength="46.0" lengthAdjust="spacingAndGlyphs" stroke="#cbcbcb" stroke-width="0.22">4,400.00</text>
<text x="1595.1" y="252.2" font-size="12" fill="#cbcbcb" textLength="46.0" lengthAdjust="spacingAndGlyphs" stroke="#cbcbcb" stroke-width="0.22">4,350.00</text>
<text x="1595.1" y="285.2" font-size="12" fill="#cbcbcb" textLength="46.0" lengthAdjust="spacingAndGlyphs" stroke="#cbcbcb" stroke-width="0.22">4,300.00</text>
<text x="1595.1" y="318.3" font-size="12" fill="#cbcbcb" textLength="46.0" lengthAdjust="spacingAndGlyphs" stroke="#cbcbcb" stroke-width="0.22">4,250.00</text>
<text x="1595.1" y="351.4" font-size="12" fill="#cbcbcb" textLength="46.0" lengthAdjust="spacingAndGlyphs" stroke="#cbcbcb" stroke-width="0.22">4,200.00</text>
<text x="1595.1" y="384.4" font-size="12" fill="#cbcbcb" textLength="46.0" lengthAdjust="spacingAndGlyphs" stroke="#cbcbcb" stroke-width="0.22">4,150.00</text>
<text x="1595.1" y="417.4" font-size="12" fill="#cbcbcb" textLength="46.0" lengthAdjust="spacingAndGlyphs" stroke="#cbcbcb" stroke-width="0.22">4,100.00</text>
<text x="1595.1" y="450.5" font-size="12" fill="#cbcbcb" textLength="46.0" lengthAdjust="spacingAndGlyphs" stroke="#cbcbcb" stroke-width="0.22">4,050.00</text>
<text x="1595.1" y="483.6" font-size="12" fill="#cbcbcb" textLength="46.0" lengthAdjust="spacingAndGlyphs" stroke="#cbcbcb" stroke-width="0.22">4,000.00</text>
<text x="1595.1" y="516.6" font-size="12" fill="#cbcbcb" textLength="46.0" lengthAdjust="spacingAndGlyphs" stroke="#cbcbcb" stroke-width="0.22">3,950.00</text>
<text x="1595.1" y="549.6" font-size="12" fill="#cbcbcb" textLength="46.0" lengthAdjust="spacingAndGlyphs" stroke="#cbcbcb" stroke-width="0.22">3,900.00</text>
<text x="1595.1" y="582.7" font-size="12" fill="#cbcbcb" textLength="46.0" lengthAdjust="spacingAndGlyphs" stroke="#cbcbcb" stroke-width="0.22">3,850.00</text>
<text x="1595.1" y="615.7" font-size="12" fill="#cbcbcb" textLength="46.0" lengthAdjust="spacingAndGlyphs" stroke="#cbcbcb" stroke-width="0.22">3,800.00</text>
<text x="1595.1" y="648.8" font-size="12" fill="#cbcbcb" textLength="46.0" lengthAdjust="spacingAndGlyphs" stroke="#cbcbcb" stroke-width="0.22">3,750.00</text>
<text x="1595.1" y="681.8" font-size="12" fill="#cbcbcb" textLength="46.0" lengthAdjust="spacingAndGlyphs" stroke="#cbcbcb" stroke-width="0.22">3,700.00</text>
<text x="1595.1" y="714.9" font-size="12" fill="#cbcbcb" textLength="46.0" lengthAdjust="spacingAndGlyphs" stroke="#cbcbcb" stroke-width="0.22">3,650.00</text>
<text x="1595.1" y="747.9" font-size="12" fill="#cbcbcb" textLength="46.0" lengthAdjust="spacingAndGlyphs" stroke="#cbcbcb" stroke-width="0.22">3,600.00</text>
<text x="1595.1" y="781.0" font-size="12" fill="#cbcbcb" textLength="46.0" lengthAdjust="spacingAndGlyphs" stroke="#cbcbcb" stroke-width="0.22">3,550.00</text>
<text x="1595.1" y="814.0" font-size="12" fill="#cbcbcb" textLength="46.0" lengthAdjust="spacingAndGlyphs" stroke="#cbcbcb" stroke-width="0.22">3,500.00</text>
</g>
<rect x="1587" y="568" width="60" height="17.5" rx="2" fill="#ff9800"/>
<rect x="1587" y="585" width="60" height="31" rx="2" fill="#089981"/>
<rect x="1587" y="585" width="60" height="4" fill="#089981"/>
<rect x="1587" y="581" width="60" height="4" fill="#ff9800"/>
<rect x="1587" y="682" width="60" height="17" rx="2" fill="#2962ff"/>
<rect x="1587" y="799" width="25.6" height="16" fill="#26a69a"/>
<text x="1595.0" y="579.8" font-size="12" fill="#0f0f0f" textLength="45.8" lengthAdjust="spacingAndGlyphs" stroke="#0f0f0f" stroke-width="0.22">3,842.57</text>
<text x="1595.0" y="597.0" font-size="12" fill="#ffffff" textLength="45.8" lengthAdjust="spacingAndGlyphs" stroke="#ffffff" stroke-width="0.22">3,829.59</text>
<text x="1595.0" y="611.1" font-size="12" fill="#c9e8e2" textLength="46.1" lengthAdjust="spacingAndGlyphs" stroke="#c9e8e2" stroke-width="0.22">03:51:26</text>
<text x="1595.0" y="694.2" font-size="12" fill="#ffffff" textLength="45.8" lengthAdjust="spacingAndGlyphs" stroke="#ffffff" stroke-width="0.22">3,682.74</text>
<text x="1594.6" y="812.2" font-size="12" fill="#ffffff" textLength="12.6" lengthAdjust="spacingAndGlyphs" font-weight="bold">69</text>
<text x="43.8" y="866.9" font-size="12" fill="#cbcbcb" stroke="#cbcbcb" stroke-width="0.22" text-anchor="middle">27</text>
<text x="133.8" y="866.9" font-size="12" fill="#cbcbcb" stroke="#cbcbcb" stroke-width="0.22" text-anchor="middle">29</text>
<text x="213.9" y="866.9" font-size="12" fill="#cbcbcb" textLength="19" lengthAdjust="spacingAndGlyphs" font-weight="bold">Oct</text>
<text x="312.8" y="866.9" font-size="12" fill="#cbcbcb" stroke="#cbcbcb" stroke-width="0.22" text-anchor="middle">3</text>
<text x="402.8" y="866.9" font-size="12" fill="#cbcbcb" stroke="#cbcbcb" stroke-width="0.22" text-anchor="middle">5</text>
<text x="492.8" y="866.9" font-size="12" fill="#cbcbcb" stroke="#cbcbcb" stroke-width="0.22" text-anchor="middle">7</text>
<text x="582.8" y="866.9" font-size="12" fill="#cbcbcb" stroke="#cbcbcb" stroke-width="0.22" text-anchor="middle">9</text>
<text x="671.8" y="866.9" font-size="12" fill="#cbcbcb" stroke="#cbcbcb" stroke-width="0.22" text-anchor="middle">11</text>
<text x="761.8" y="866.9" font-size="12" fill="#cbcbcb" stroke="#cbcbcb" stroke-width="0.22" text-anchor="middle">13</text>
<text x="851.8" y="866.9" font-size="12" fill="#cbcbcb" stroke="#cbcbcb" stroke-width="0.22" text-anchor="middle">15</text>
<text x="941.8" y="866.9" font-size="12" fill="#cbcbcb" stroke="#cbcbcb" stroke-width="0.22" text-anchor="middle">17</text>
<text x="1030.8" y="866.9" font-size="12" fill="#cbcbcb" stroke="#cbcbcb" stroke-width="0.22" text-anchor="middle">19</text>
<text x="1120.8" y="866.9" font-size="12" fill="#cbcbcb" stroke="#cbcbcb" stroke-width="0.22" text-anchor="middle">21</text>
<text x="1210.8" y="866.9" font-size="12" fill="#cbcbcb" stroke="#cbcbcb" stroke-width="0.22" text-anchor="middle">23</text>
<text x="1300.8" y="866.9" font-size="12" fill="#cbcbcb" stroke="#cbcbcb" stroke-width="0.22" text-anchor="middle">25</text>
<text x="1389.8" y="866.9" font-size="12" fill="#cbcbcb" stroke="#cbcbcb" stroke-width="0.22" text-anchor="middle">27</text>
<text x="1479.8" y="866.9" font-size="12" fill="#cbcbcb" stroke="#cbcbcb" stroke-width="0.22" text-anchor="middle">29</text>
<text x="10.2" y="18.8" font-size="12" fill="#d6d6d6" textLength="49.0" lengthAdjust="spacingAndGlyphs" font-weight="bold">inarin919</text>
<text x="63.5" y="18.8" font-size="12" fill="#d6d6d6" textLength="40.2" lengthAdjust="spacingAndGlyphs" font-weight="bold">created</text>
<text x="108.3" y="18.8" font-size="12" fill="#d6d6d6" textLength="23.5" lengthAdjust="spacingAndGlyphs" font-weight="bold">with</text>
<text x="136.3" y="18.8" font-size="12" fill="#d6d6d6" textLength="93.4" lengthAdjust="spacingAndGlyphs" font-weight="bold">TradingView.com,</text>
<text x="234.5" y="18.8" font-size="12" fill="#d6d6d6" textLength="18.1" lengthAdjust="spacingAndGlyphs" font-weight="bold">Oct</text>
<text x="257" y="18.8" font-size="12" fill="#d6d6d6" textLength="16" lengthAdjust="spacingAndGlyphs" font-weight="bold">23,</text>
<text x="277.6" y="18.8" font-size="12" fill="#d6d6d6" textLength="24.3" lengthAdjust="spacingAndGlyphs" font-weight="bold">2025</text>
<text x="307.3" y="18.8" font-size="12" fill="#d6d6d6" textLength="27.7" lengthAdjust="spacingAndGlyphs" font-weight="bold">13:08</text>
<text x="339.6" y="18.8" font-size="12" fill="#d6d6d6" textLength="33.9" lengthAdjust="spacingAndGlyphs" font-weight="bold">UTC+9</text>
<g transform="translate(12,895.67) scale(0.8333)" fill="#e2e2e2"><path d="M14 22H7V11H0V4h14v18zM28 22h-8l7.5-18h8L28 22z"/><circle cx="20" cy="8" r="4"/></g>
<text x="49.1" y="913.9" font-size="20.5" fill="#e2e2e2" textLength="120.6" lengthAdjust="spacingAndGlyphs" font-weight="bold">TradingView</text>
</svg>
</body></html>
